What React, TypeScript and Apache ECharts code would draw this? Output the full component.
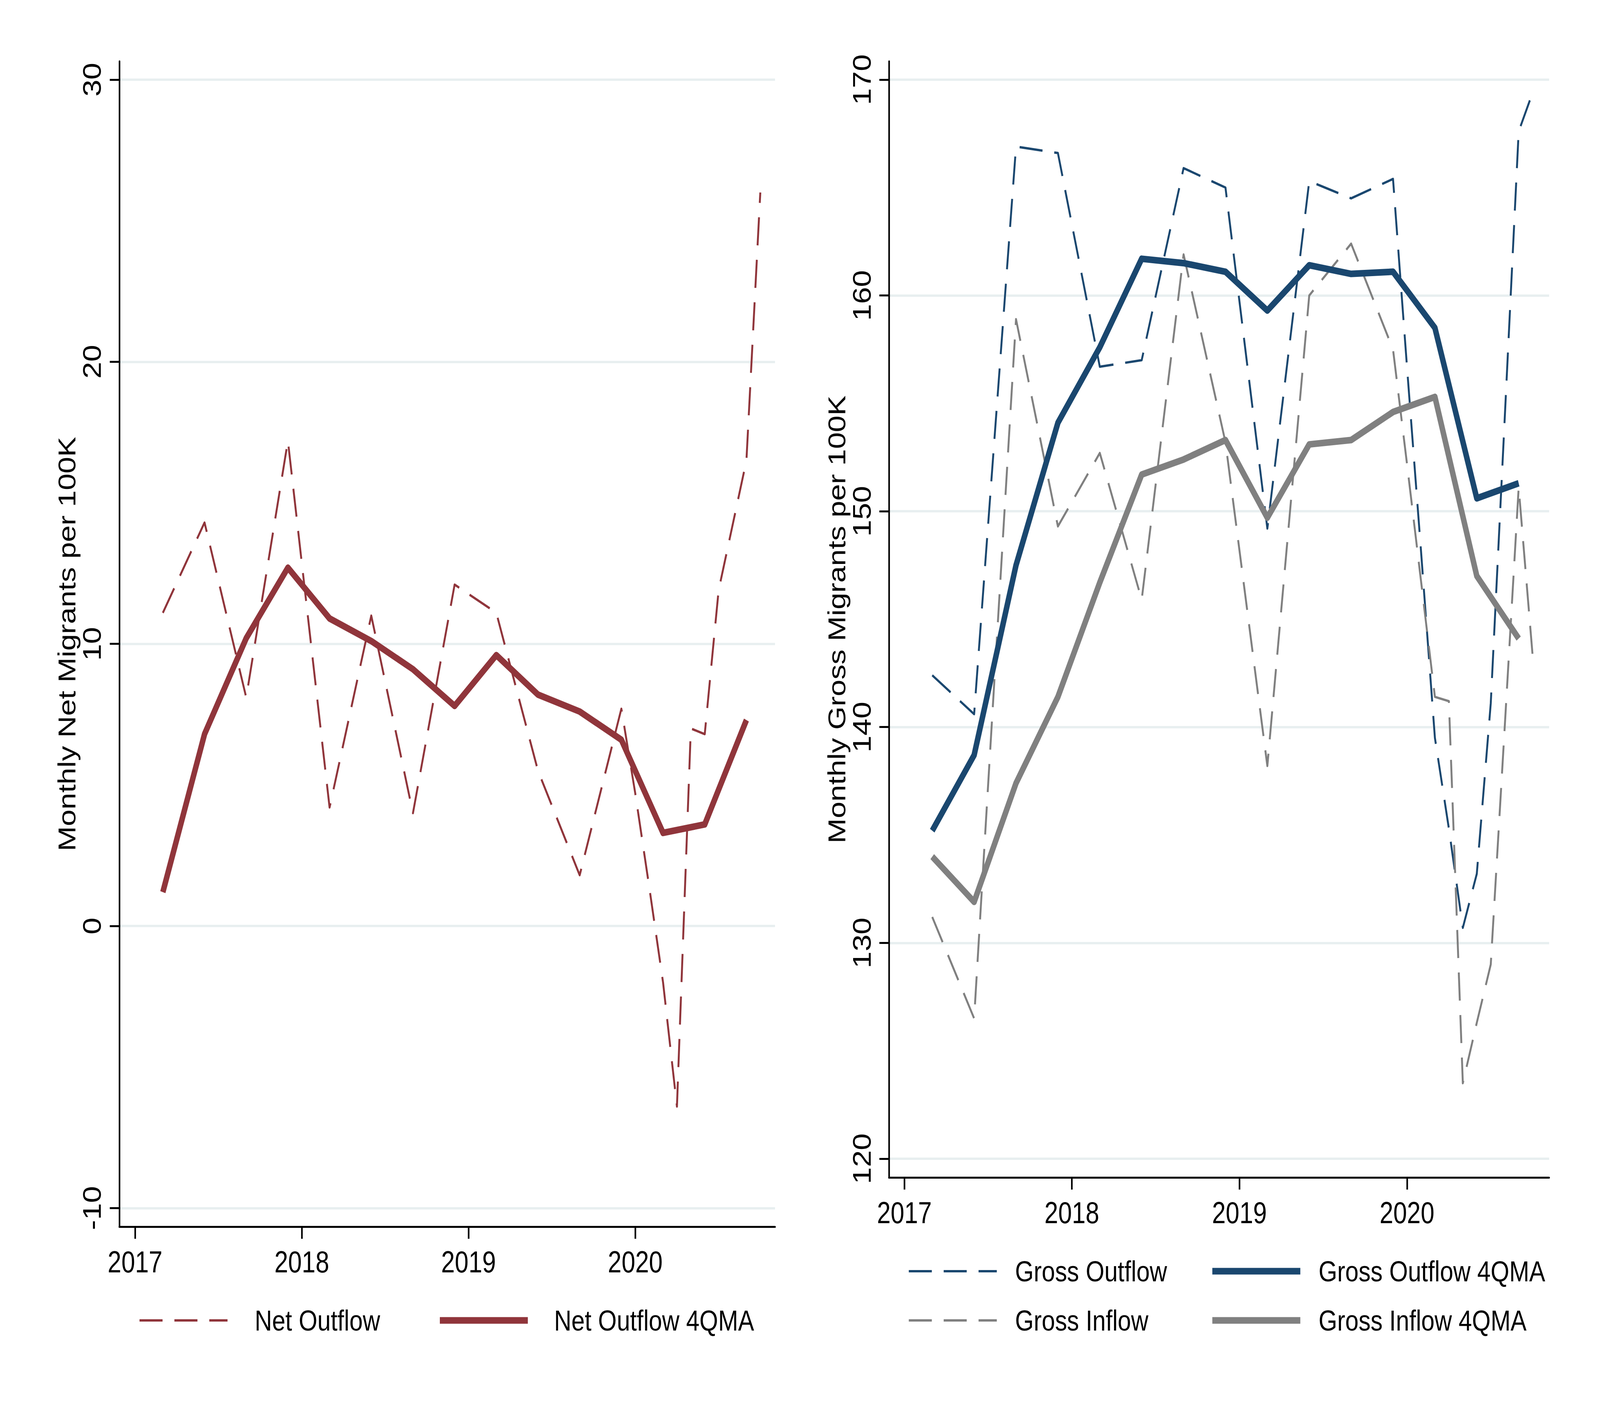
import React, { useEffect, useRef, useState } from "react";
import * as echarts from "echarts";

// ---------- data ----------
const monthlyDates = [
  "2017-03", "2017-06", "2017-09", "2017-12",
  "2018-03", "2018-06", "2018-09", "2018-12",
  "2019-03", "2019-06", "2019-09", "2019-12",
  "2020-01", "2020-02", "2020-03", "2020-04", "2020-05",
  "2020-06", "2020-07", "2020-08", "2020-09", "2020-10",
];
const quarterDates = [
  "2017-03", "2017-06", "2017-09", "2017-12",
  "2018-03", "2018-06", "2018-09", "2018-12",
  "2019-03", "2019-06", "2019-09", "2019-12",
  "2020-03", "2020-06", "2020-09",
];

const netOutflow = [
  11.1, 14.3, 8.1, 17.2, 4.2, 11.0, 4.0, 12.1, 11.1, 5.5, 1.8, 7.7,
  4.7, 1.4, -2.0, -6.4, 7.0, 6.8, 11.9, 14.2, 16.5, 26.0,
];
const netOutflow4QMA = [
  1.2, 6.8, 10.2, 12.7, 10.9, 10.1, 9.1, 7.8, 9.6, 8.2, 7.6, 6.6, 3.3, 3.6, 7.3,
];

const grossOutflow = [
  142.4, 140.6, 166.9, 166.6, 156.7, 157.0, 165.9, 165.0, 149.2, 165.3, 164.5, 165.4,
  156.7, 148.2, 139.5, 135.3, 130.7, 133.2, 141.1, 154.3, 167.6, 169.4,
];
const grossInflow = [
  131.2, 126.5, 158.9, 149.3, 152.7, 145.9, 161.9, 153.2, 138.2, 160.0, 162.4, 157.5,
  152.2, 146.8, 141.4, 141.2, 123.5, 126.3, 129.0, 140.0, 151.1, 143.3,
];
const grossOutflow4QMA = [
  135.2, 138.7, 147.5, 154.1, 157.6, 161.7, 161.5, 161.1, 159.3, 161.4, 161.0, 161.1,
  158.5, 150.6, 151.3,
];
const grossInflow4QMA = [
  134.0, 131.9, 137.4, 141.4, 146.7, 151.7, 152.4, 153.3, 149.7, 153.1, 153.3, 154.6,
  155.3, 147.0, 144.1,
];

const yearTicks = [2017, 2018, 2019, 2020];
const netTicks = [-10, 0, 10, 20, 30];
const grossTicks = [120, 130, 140, 150, 160, 170];

// ---------- helpers ----------
const BASE_YEAR = 2017;
const monthIndex = (d: string) => {
  const [y, m] = d.split("-").map(Number);
  return (y - BASE_YEAR) * 12 + (m - 1);
};
const pairs = (dates: string[], vals: number[]) =>
  dates.map((d, i) => [monthIndex(d), vals[i]]);
const yearPos = yearTicks.map((y) => (y - BASE_YEAR) * 12);

const W = 5000;
const H = 3636;
const FONT = "'Liberation Sans', Arial, Helvetica, sans-serif";
const MAROON = "#90353b";
const NAVY = "#1a476f";
const GRAY = "#808080";
const GRIDC = "#e8eff0";
const AXIS_LS = { color: "#000", width: 5 };
const DASH = [72, 37];

const xAxis = (gridIndex: number, min: number, max: number) => ({
  type: "value",
  gridIndex,
  min,
  max,
  axisLine: { show: true, onZero: false, lineStyle: AXIS_LS },
  axisTick: { show: true, length: 31, customValues: yearPos, lineStyle: AXIS_LS },
  axisLabel: {
    customValues: yearPos,
    margin: 52,
    fontSize: 77,
    color: "#000",
    fontFamily: FONT,
    formatter: (v: number) => String(BASE_YEAR + Math.round(v / 12)),
  },
  splitLine: { show: false },
});

const yAxis = (
  gridIndex: number,
  min: number,
  max: number,
  ticks: number[],
  name: string,
  nameGap: number
) => ({
  type: "value",
  gridIndex,
  min,
  max,
  axisLine: { show: true, onZero: false, lineStyle: AXIS_LS },
  axisTick: { show: true, length: 30, customValues: ticks, lineStyle: AXIS_LS },
  axisLabel: {
    customValues: ticks,
    rotate: 90,
    margin: 46,
    fontSize: 78,
    color: "#000",
    fontFamily: FONT,
  },
  splitLine: { show: true, lineStyle: { color: GRIDC, width: 6 } },
  name,
  nameLocation: "middle",
  nameGap,
  nameTextStyle: { fontSize: 77, color: "#000", fontFamily: FONT },
});

const lineSeries = (
  name: string,
  axisIdx: number,
  data: number[][],
  color: string,
  dashed: boolean,
  z: number
) => ({
  type: "line",
  name,
  xAxisIndex: axisIdx,
  yAxisIndex: axisIdx,
  data,
  symbol: "none",
  showSymbol: false,
  silent: true,
  z,
  itemStyle: { color },
  lineStyle: {
    color,
    width: dashed ? 6 : 17,
    type: dashed ? DASH : "solid",
    cap: "butt",
    join: "round",
  },
});

const ICON_W = 275;
const legendItem = (
  name: string,
  color: string,
  dashed: boolean,
  left: number,
  centerY: number,
  textOffset: number
) => ({
  data: [name],
  left,
  top: centerY - 38.5,
  orient: "horizontal",
  padding: 0,
  itemWidth: ICON_W,
  itemHeight: 20,
  itemGap: 0,
  selectedMode: false,
  itemStyle: { opacity: 0 },
  lineStyle: {
    color,
    width: dashed ? 6 : 17,
    type: dashed ? DASH : "solid",
    cap: "butt",
    opacity: 1,
  },
  textStyle: {
    fontSize: 75,
    color: "#000",
    fontFamily: FONT,
    padding: [0, 0, 0, textOffset - ICON_W - 5],
  },
});

export default function App() {
  const ref = useRef<HTMLDivElement>(null);
  const [scale, setScale] = useState<[number, number]>([1, 1]);

  useEffect(() => {
    // The real viewport may be smaller than the requested 5000x3636: fit the drawing into it.
    const sx = Math.min(1, (window.innerWidth || W) / W);
    const sy = Math.min(1, (window.innerHeight || H) / H);
    setScale([sx, sy]);
  }, []);

  useEffect(() => {
    if (!ref.current) return;
    const chart = echarts.init(ref.current, undefined, { renderer: "svg" });
    const option = {
      animation: false,
      backgroundColor: "#fff",
      grid: [
        { left: 373, top: 157, width: 2049, height: 2984, show: false },
        { left: 2778, top: 157, width: 2063, height: 2858, show: false },
      ],
      xAxis: [xAxis(0, -1.13, 46.06), xAxis(1, -1.1, 46.18)],
      yAxis: [
        yAxis(0, -10.66, 30.65, netTicks, "Monthly Net Migrants per 100K", 126),
        yAxis(1, 119.13, 170.85, grossTicks, "Monthly Gross Migrants per 100K", 108),
      ],
      legend: [
        legendItem("Net Outflow", MAROON, true, 433, 3382, 360),
        legendItem("Net Outflow 4QMA", MAROON, false, 1366, 3382, 357),
        legendItem("Gross Outflow", NAVY, true, 2837, 3256, 332),
        legendItem("Gross Outflow 4QMA", NAVY, false, 3780, 3256, 332),
        legendItem("Gross Inflow", GRAY, true, 2837, 3382, 332),
        legendItem("Gross Inflow 4QMA", GRAY, false, 3780, 3382, 332),
      ],
      series: [
        lineSeries("Net Outflow", 0, pairs(monthlyDates, netOutflow), MAROON, true, 2),
        lineSeries("Net Outflow 4QMA", 0, pairs(quarterDates, netOutflow4QMA), MAROON, false, 3),
        lineSeries("Gross Outflow", 1, pairs(monthlyDates, grossOutflow), NAVY, true, 2),
        lineSeries("Gross Inflow", 1, pairs(monthlyDates, grossInflow), GRAY, true, 2),
        lineSeries("Gross Outflow 4QMA", 1, pairs(quarterDates, grossOutflow4QMA), NAVY, false, 3),
        lineSeries("Gross Inflow 4QMA", 1, pairs(quarterDates, grossInflow4QMA), GRAY, false, 3),
      ],
    };
    chart.setOption(option as any);
    return () => chart.dispose();
  }, []);

  return (
    <div
      style={{
        position: "fixed",
        left: 0,
        top: 0,
        width: "100vw",
        height: "100vh",
        overflow: "hidden",
        background: "#fff",
      }}
    >
      <div
        ref={ref}
        style={{
          position: "absolute",
          left: 0,
          top: 0,
          width: W,
          height: H,
          background: "#fff",
          transformOrigin: "0 0",
          transform: `scale(${scale[0]}, ${scale[1]})`,
        }}
      />
    </div>
  );
}
